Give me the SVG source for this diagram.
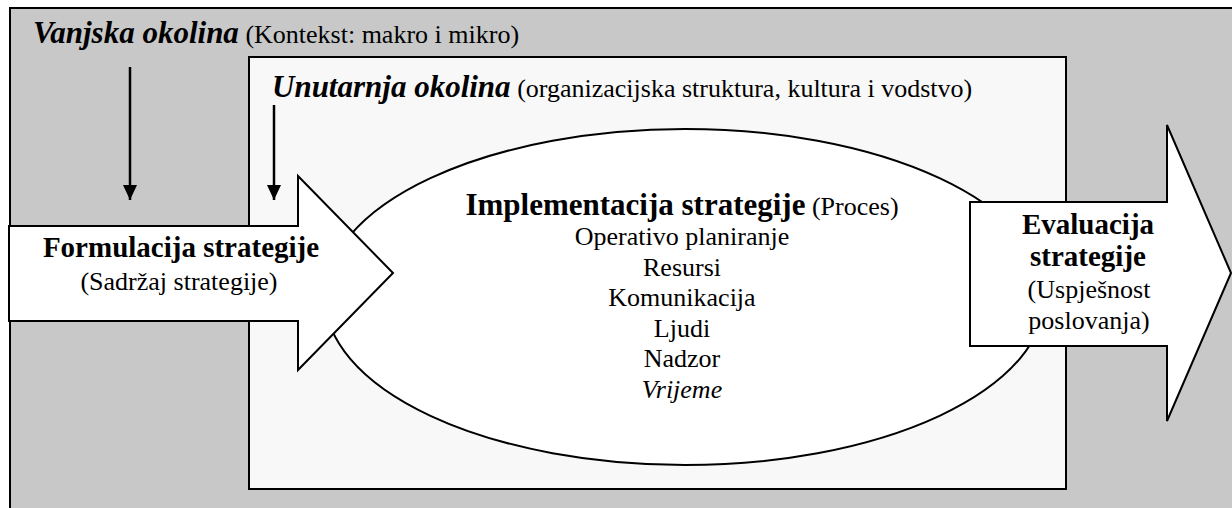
<svg xmlns="http://www.w3.org/2000/svg" width="1232" height="508" viewBox="0 0 1232 508">
<style>
text{font-family:'Liberation Serif','Times New Roman','DejaVu Serif',serif;fill:#000}
.bi{font-weight:bold;font-style:italic;font-size:31px}
.r{font-size:26px}
.b{font-weight:bold;font-size:29px}
.bl{font-weight:bold;font-size:31px}
.i{font-style:italic;font-size:26px}
.shape{stroke:#000;stroke-width:2}
</style>
<defs>
<marker id="ah" markerUnits="userSpaceOnUse" markerWidth="16" markerHeight="16" viewBox="0 0 16 16" refX="15" refY="8" orient="auto">
<path d="M0,1 L15,8 L0,15 Z" fill="#000"/>
</marker>
</defs>
<g id="vanjska-okolina">
<rect class="shape" x="10" y="8" width="1240" height="520" fill="#c8c8c8"/>
<text x="33" y="43" font-family="Liberation Serif, serif"><tspan class="bi">Vanjska okolina</tspan><tspan class="r"> (Kontekst: makro i mikro)</tspan></text>
</g>
<g id="unutarnja-okolina">
<rect class="shape" x="249" y="57" width="817" height="432" fill="#f8f8f8"/>
<text x="272" y="97" font-family="Liberation Serif, serif"><tspan class="bi">Unutarnja okolina</tspan><tspan class="r"> (organizacijska struktura, kultura i vodstvo)</tspan></text>
</g>
<g id="implementacija">
<ellipse class="shape" cx="685" cy="297" rx="360" ry="168" fill="#fff"/>
<text text-anchor="middle" font-family="Liberation Serif, serif"><tspan x="682" y="215" class="bl">Implementacija strategije</tspan><tspan class="r"> (Proces)</tspan><tspan x="682" y="245" class="r">Operativo planiranje</tspan><tspan x="682" y="275.5" class="r">Resursi</tspan><tspan x="682" y="306" class="r">Komunikacija</tspan><tspan x="682" y="336.5" class="r">Ljudi</tspan><tspan x="682" y="367" class="r">Nadzor</tspan><tspan x="682" y="397.5" class="i">Vrijeme</tspan></text>
</g>
<g id="formulacija">
<polygon class="shape" points="9,226 298,226 298,176 393,273 298,370 298,321 9,321" fill="#fff"/>
<text text-anchor="middle" font-family="Liberation Serif, serif"><tspan x="181" y="257" class="b">Formulacija strategije</tspan><tspan x="179" y="290" class="r">(Sadržaj strategije)</tspan></text>
</g>
<g id="evaluacija">
<polygon class="shape" points="970,202 1167,202 1167,125 1231,273 1167,421 1167,346 970,346" fill="#fff"/>
<text text-anchor="middle" font-family="Liberation Serif, serif"><tspan x="1088" y="234" class="b">Evaluacija</tspan><tspan x="1088" y="266" class="b">strategije</tspan><tspan x="1089" y="298" class="r">(Uspješnost</tspan><tspan x="1089" y="329" class="r">poslovanja)</tspan></text>
</g>
<g id="connectors" stroke="#000" stroke-width="2.5" fill="none">
<line x1="130" y1="67" x2="130" y2="200" marker-end="url(#ah)"/>
<line x1="274" y1="105" x2="274" y2="200" marker-end="url(#ah)"/>
</g>
</svg>
